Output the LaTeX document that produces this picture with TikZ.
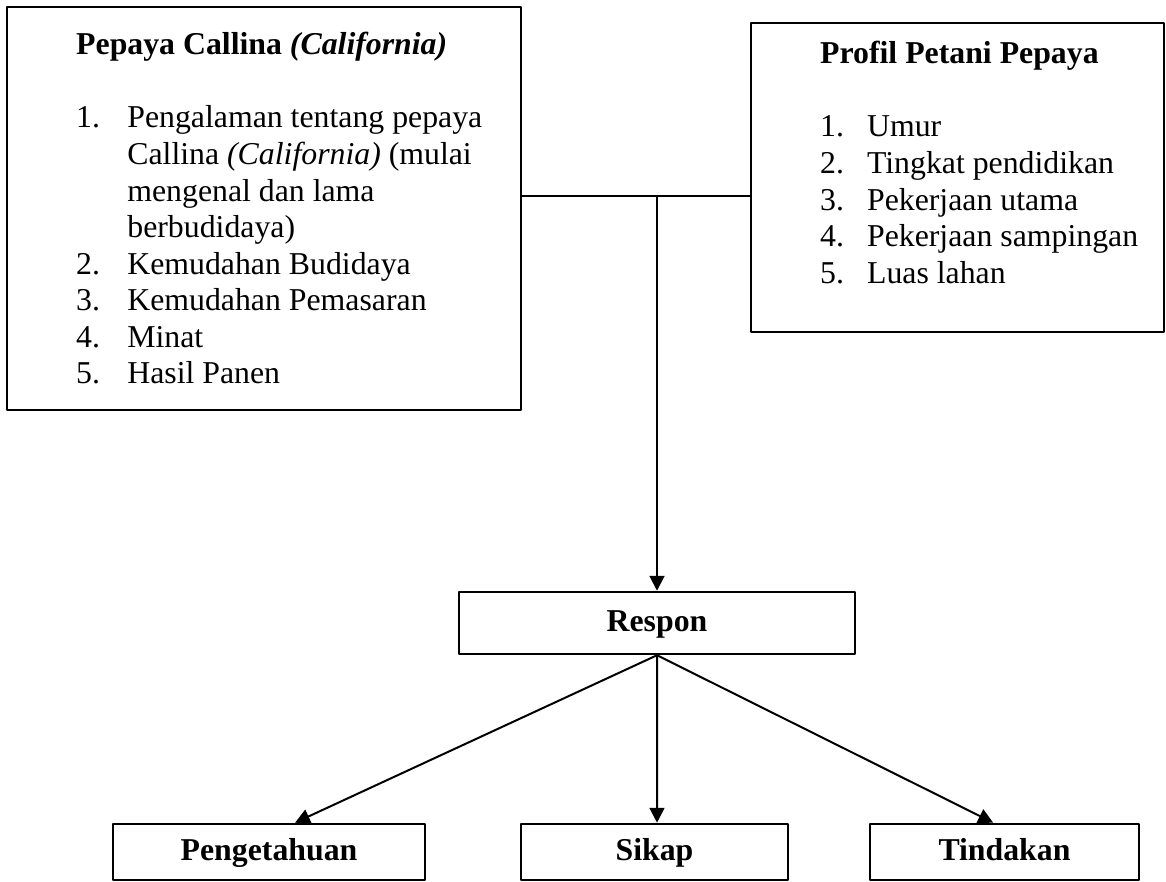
\documentclass[tikz,border=0pt]{standalone}
\usepackage{fontspec}
\setmainfont{Liberation Serif}
\usetikzlibrary{arrows.meta}
\newcommand{\itemfont}{\fontsize{12}{13.8}\selectfont}
\tikzset{
  frame/.style={draw=black,line width=0.95pt,inner sep=0pt},
  label box/.style={frame,font=\itemfont\bfseries,text height=8.6pt,text depth=2.4pt},
  link/.style={black,line width=0.75pt},
  arrow/.style={link,-{Triangle[width=5.6pt,length=5.6pt]}}
}

\begin{document}
\begin{tikzpicture}[line cap=round,line join=round,x=1cm,y=1cm]
    \useasboundingbox(0,0) rectangle (15.465,11.685);
    \clip(0,0) rectangle (15.465,11.685);

    % Boxes with the lists
    \draw(3.501,8.919) node[frame, minimum width=6.817cm, minimum height=5.345cm] (pepaya) {};
    \draw(12.699,9.331) node[frame, minimum width=5.478cm, minimum height=4.098cm] (profil) {};
    \node[anchor=base west, inner sep=0pt, font=\itemfont] (pepayatext) at ([xshift=0.928cm,yshift=-0.650cm]pepaya.north west) {%
      \begin{tabular}[t]{@{}p{19.3pt}@{}l@{}}
        \multicolumn{2}{@{}l@{}}{\textbf{Pepaya Callina \textit{(California)}}}\\
        \\
        1. & Pengalaman tentang pepaya\\
           & Callina \textit{(California)} (mulai\\
           & mengenal dan lama\\
           & berbudidaya)\\
        2. & Kemudahan Budidaya\\
        3. & Kemudahan Pemasaran\\
        4. & Minat\\
        5. & Hasil Panen
      \end{tabular}};
    \node[anchor=base west, inner sep=0pt, font=\itemfont] (profiltext) at ([xshift=0.928cm,yshift=-0.557cm]profil.north west) {%
      \begin{tabular}[t]{@{}p{17.7pt}@{}l@{}}
        \multicolumn{2}{@{}l@{}}{\textbf{Profil Petani Pepaya}}\\
        \\
        1. & Umur\\
        2. & Tingkat pendidikan\\
        3. & Pekerjaan utama\\
        4. & Pekerjaan sampingan\\
        5. & Luas lahan
      \end{tabular}};

    % Respon and its three parts
    \draw(8.714,3.422) node[label box, minimum width=5.252cm, minimum height=0.822cm] (respon) {Respon};
    \draw(3.568,0.385) node[label box, minimum width=4.138cm, minimum height=0.743cm] (pengetahuan) {Pengetahuan};
    \draw(8.681,0.385) node[label box, minimum width=3.541cm, minimum height=0.743cm] (sikap) {Sikap};
    \draw(13.323,0.385) node[label box, minimum width=3.568cm, minimum height=0.743cm] (tindakan) {Tindakan};

    % Connectors
    \coordinate (junc) at (8.714,9.085);
    \draw[link, line width=0.5pt] (pepaya.east |- junc) -- (profil.west |- junc);
    \draw[arrow] (junc) -- (respon.north);
    \foreach \target/\dx in {pengetahuan/0.345, sikap/0.033, tindakan/-0.15} {
            \draw[arrow] (respon.south) -- ([xshift=\dx cm]\target.north);
        }
\end{tikzpicture}
\end{document}
